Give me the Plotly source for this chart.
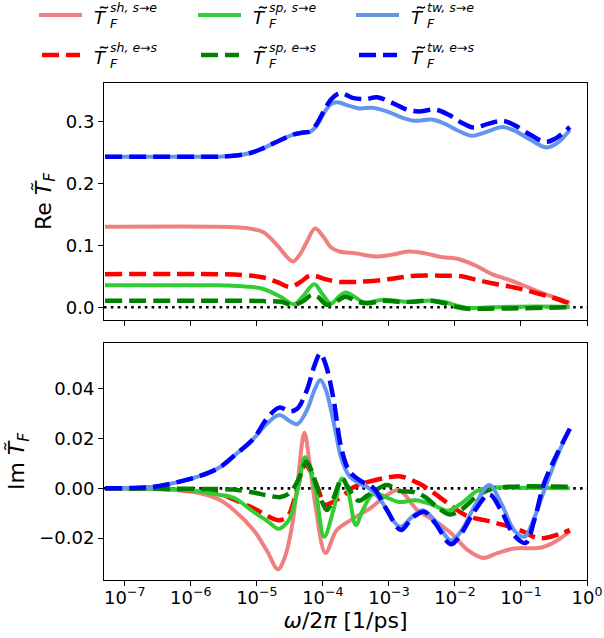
import numpy as np
import plotly.graph_objects as go

# ---------------- data (x given as log10 of omega/2pi in 1/ps) ----------------
# Real part
re_sh_se_lx = [-7.3, -5.6, -5.3, -5.1, -4.9, -4.7, -4.55, -4.45, -4.35, -4.25, -4.12, -4.0, -3.88, -3.75, -3.5, -3.2, -2.95, -2.7, -2.45, -2.2, -1.95, -1.7, -1.45, -1.2, -1.0, -0.7, -0.26]
re_sh_se = [0.130, 0.130, 0.129, 0.127, 0.121, 0.101, 0.082, 0.074, 0.085, 0.104, 0.127, 0.115, 0.097, 0.090, 0.087, 0.082, 0.085, 0.090, 0.087, 0.081, 0.078, 0.068, 0.054, 0.045, 0.037, 0.024, 0.007]

re_sh_es_lx = [-7.3, -5.6, -5.2, -4.9, -4.7, -4.5, -4.35, -4.2, -4.1, -3.95, -3.75, -3.5, -3.2, -2.9, -2.6, -2.2, -1.9, -1.7, -1.4, -1.1, -0.8, -0.5, -0.26]
re_sh_es = [0.0535, 0.0535, 0.052, 0.048, 0.041, 0.033, 0.040, 0.051, 0.050, 0.045, 0.041, 0.041, 0.043, 0.047, 0.051, 0.051, 0.050, 0.045, 0.038, 0.032, 0.024, 0.015, 0.006]

re_sp_se_lx = [-7.3, -5.6, -5.4, -5.1, -4.9, -4.64, -4.44, -4.3, -4.13, -4.0, -3.88, -3.76, -3.66, -3.52, -3.38, -3.08, -2.85, -2.67, -2.36, -2.16, -1.95, -1.81, -1.5, -1.1, -0.26]
re_sp_se = [0.0355, 0.0355, 0.035, 0.033, 0.0296, 0.017, 0.005, 0.018, 0.037, 0.020, 0.006, 0.017, 0.024, 0.017, 0.008, 0.012, 0.010, 0.0085, 0.011, 0.0085, 0.002, -0.001, 0.000, 0.001, 0.001]

re_sp_es_lx = [-7.3, -5.6, -5.2, -4.9, -4.64, -4.45, -4.3, -4.17, -4.08, -3.94, -3.84, -3.66, -3.5, -3.33, -3.07, -2.82, -2.6, -2.36, -2.16, -1.95, -1.81, -1.5, -1.0, -0.26]
re_sp_es = [0.0107, 0.0107, 0.0105, 0.010, 0.009, 0.0037, 0.010, 0.020, 0.017, 0.004, 0.006, 0.017, 0.010, 0.0065, 0.0107, 0.0086, 0.0095, 0.0107, 0.0065, 0.000, -0.0025, -0.0022, -0.0015, 0.000]

re_tw_se_lx = [-7.3, -6.0, -5.6, -5.4, -5.1, -4.9, -4.64, -4.44, -4.3, -4.2, -4.1, -3.98, -3.88, -3.78, -3.6, -3.45, -3.25, -3.0, -2.8, -2.62, -2.35, -2.15, -1.95, -1.75, -1.5, -1.28, -1.1, -0.85, -0.62, -0.45, -0.26]
re_tw_se = [0.243, 0.243, 0.243, 0.244, 0.249, 0.257, 0.270, 0.279, 0.282, 0.283, 0.292, 0.314, 0.328, 0.331, 0.325, 0.321, 0.322, 0.315, 0.306, 0.301, 0.303, 0.296, 0.285, 0.277, 0.284, 0.291, 0.285, 0.270, 0.258, 0.265, 0.286]

re_tw_es_lx = [-7.3, -6.0, -5.6, -5.4, -5.1, -4.9, -4.64, -4.44, -4.3, -4.2, -4.1, -3.98, -3.88, -3.78, -3.7, -3.55, -3.35, -3.18, -2.95, -2.75, -2.55, -2.3, -2.1, -1.9, -1.72, -1.5, -1.28, -1.1, -0.85, -0.64, -0.5, -0.26]
re_tw_es = [0.243, 0.243, 0.243, 0.244, 0.249, 0.257, 0.270, 0.279, 0.282, 0.284, 0.295, 0.318, 0.335, 0.344, 0.345, 0.338, 0.336, 0.339, 0.330, 0.320, 0.316, 0.319, 0.311, 0.298, 0.290, 0.296, 0.301, 0.294, 0.278, 0.267, 0.271, 0.291]

# Imaginary part
im_sh_se_lx = [-7.3, -6.5, -6.2, -5.86, -5.56, -5.35, -5.05, -4.85, -4.68, -4.58, -4.47, -4.38, -4.28, -4.2, -4.11, -3.96, -3.79, -3.53, -3.28, -3.03, -2.85, -2.57, -2.31, -2.06, -1.8, -1.57, -1.35, -1.1, -0.69, -0.45, -0.26]
im_sh_se = [0.0, -0.0003, -0.0008, -0.002, -0.0047, -0.0087, -0.0168, -0.025, -0.0326, -0.028, -0.0155, 0.003, 0.0224, 0.010, -0.0074, -0.026, -0.0168, -0.012, -0.008, -0.0027, -0.0007, -0.0087, -0.013, -0.018, -0.025, -0.028, -0.026, -0.0242, -0.0238, -0.021, -0.0172]

im_sh_es_lx = [-7.3, -6.5, -6.0, -5.56, -5.35, -5.05, -4.85, -4.68, -4.54, -4.42, -4.27, -4.17, -4.09, -3.96, -3.85, -3.7, -3.53, -3.3, -3.05, -2.82, -2.55, -2.31, -2.06, -1.81, -1.55, -1.3, -1.0, -0.75, -0.55, -0.26]
im_sh_es = [0.0, -0.0002, -0.0008, -0.0022, -0.0045, -0.008, -0.011, -0.0128, -0.0115, -0.0035, 0.0094, 0.006, 0.001, -0.0065, -0.0055, -0.003, 0.0005, 0.0027, 0.0042, 0.0048, 0.002, -0.002, -0.007, -0.0112, -0.0128, -0.0145, -0.017, -0.020, -0.0195, -0.0168]

im_sp_se_lx = [-7.3, -6.5, -6.0, -5.56, -5.35, -5.05, -4.85, -4.67, -4.55, -4.47, -4.37, -4.27, -4.19, -4.11, -3.98, -3.84, -3.71, -3.62, -3.5, -3.4, -3.23, -3.05, -2.85, -2.6, -2.35, -2.11, -1.9, -1.66, -1.45, -1.0, -0.26]
im_sp_se = [0.0, -0.0002, -0.0008, -0.0027, -0.0038, -0.0095, -0.013, -0.0163, -0.014, -0.010, 0.001, 0.0125, 0.007, -0.0007, -0.0195, -0.0087, 0.004, -0.001, -0.0148, -0.009, -0.002, -0.0035, -0.0055, -0.0048, -0.0065, -0.009, -0.006, -0.001, 0.0003, 0.0002, 0.0]

im_sp_es_lx = [-7.3, -6.0, -5.5, -5.35, -5.05, -4.85, -4.64, -4.51, -4.4, -4.32, -4.25, -4.17, -4.09, -3.94, -3.84, -3.71, -3.62, -3.46, -3.33, -3.23, -3.03, -2.85, -2.62, -2.46, -2.25, -2.08, -1.9, -1.66, -1.45, -1.2, -0.26]
im_sp_es = [0.0, -0.0002, -0.0003, -0.0005, -0.0017, -0.0028, -0.0035, -0.002, 0.002, 0.0067, 0.0107, 0.007, 0.0006, -0.0087, -0.004, 0.004, 0.0005, -0.005, -0.003, -0.0013, 0.0013, -0.001, -0.0015, -0.0034, -0.008, -0.0105, -0.0085, -0.003, -0.0003, 0.0006, 0.0006]

im_tw_se_lx = [-7.3, -6.8, -6.5, -6.2, -5.86, -5.56, -5.35, -5.05, -4.85, -4.66, -4.5, -4.39, -4.25, -4.12, -4.04, -3.96, -3.84, -3.72, -3.6, -3.45, -3.3, -3.12, -2.92, -2.82, -2.65, -2.49, -2.3, -2.06, -1.9, -1.7, -1.48, -1.3, -1.1, -0.95, -0.8, -0.65, -0.45, -0.26]
im_tw_se = [0.0, 0.0002, 0.0008, 0.0025, 0.005, 0.0085, 0.013, 0.020, 0.026, 0.0295, 0.027, 0.0258, 0.031, 0.040, 0.0436, 0.040, 0.027, 0.012, 0.005, 0.002, 0.0, -0.005, -0.0135, -0.0155, -0.0115, -0.0088, -0.013, -0.021, -0.017, -0.007, 0.0013, -0.006, -0.017, -0.0195, -0.012, -0.001, 0.013, 0.024]

im_tw_es_lx = [-7.3, -6.8, -6.5, -6.2, -5.86, -5.56, -5.35, -5.05, -4.85, -4.66, -4.5, -4.39, -4.25, -4.12, -4.04, -3.96, -3.84, -3.72, -3.6, -3.43, -3.23, -3.03, -2.82, -2.65, -2.47, -2.3, -2.06, -1.9, -1.7, -1.48, -1.3, -1.1, -0.93, -0.8, -0.65, -0.45, -0.26]
im_tw_es = [0.0, 0.0002, 0.0008, 0.0025, 0.005, 0.0085, 0.013, 0.020, 0.028, 0.0325, 0.031, 0.032, 0.039, 0.050, 0.0543, 0.050, 0.036, 0.016, 0.007, 0.003, 0.0, -0.0087, -0.0168, -0.012, -0.0094, -0.014, -0.0225, -0.018, -0.009, -0.0025, -0.009, -0.019, -0.022, -0.013, 0.002, 0.014, 0.024]

x_tick_exp = [-7, -6, -5, -4, -3, -2, -1, 0]
re_ticks = [0.0, 0.1, 0.2, 0.3]
im_ticks = [-0.02, 0.0, 0.02, 0.04]

series_labels = {
    "sh_se": "sh, s→e", "sh_es": "sh, e→s",
    "sp_se": "sp, s→e", "sp_es": "sp, e→s",
    "tw_se": "tw, s→e", "tw_es": "tw, e→s",
}

# ---------------- styling ----------------
FONT = "DejaVu Sans"
W, H = 604, 638
ML, MR, MT, MB = 104, 17, 83, 58
PW, PH = W - ML - MR, H - MT - MB

styles = {
    "sh_se": dict(color="#F08080", dash="solid", width=4),
    "sh_es": dict(color="#FF0000", dash="17px,7px", width=4.5),
    "sp_se": dict(color="#32CD32", dash="solid", width=4),
    "sp_es": dict(color="#008000", dash="17px,7px", width=4.5),
    "tw_se": dict(color="#6495ED", dash="solid", width=4),
    "tw_es": dict(color="#0000FF", dash="17px,7px", width=4.5),
}

re_data = {
    "sh_se": (re_sh_se_lx, re_sh_se), "sh_es": (re_sh_es_lx, re_sh_es),
    "sp_se": (re_sp_se_lx, re_sp_se), "sp_es": (re_sp_es_lx, re_sp_es),
    "tw_se": (re_tw_se_lx, re_tw_se), "tw_es": (re_tw_es_lx, re_tw_es),
}
im_data = {
    "sh_se": (im_sh_se_lx, im_sh_se), "sh_es": (im_sh_es_lx, im_sh_es),
    "sp_se": (im_sp_se_lx, im_sp_se), "sp_es": (im_sp_es_lx, im_sp_es),
    "tw_se": (im_tw_se_lx, im_tw_se), "tw_es": (im_tw_es_lx, im_tw_es),
}
order = ["sh_se", "sh_es", "sp_se", "sp_es", "tw_se", "tw_es"]

fig = go.Figure()
for key in order:
    lx, yv = re_data[key]
    fig.add_trace(go.Scatter(x=10.0 ** np.array(lx), y=yv, mode="lines",
                             line=dict(shape="spline", smoothing=1.0, **styles[key]),
                             xaxis="x", yaxis="y", showlegend=False, name=series_labels[key]))
for key in order:
    lx, yv = im_data[key]
    fig.add_trace(go.Scatter(x=10.0 ** np.array(lx), y=yv, mode="lines",
                             line=dict(shape="spline", smoothing=1.0, **styles[key]),
                             xaxis="x2", yaxis="y2", showlegend=False, name=series_labels[key]))

# zero lines (dotted)
for xr, yr in (("x domain", "y"), ("x2 domain", "y2")):
    fig.add_shape(type="line", xref=xr, yref=yr, x0=0, x1=1, y0=0, y1=0,
                  line=dict(color="black", width=2.6, dash="2.6px,4.2px"), layer="below")

gap = 23 / PH
top_dom = [0.5 + gap / 2, 1.0]
bot_dom = [0.0, 0.5 - gap / 2]

xrange = [np.log10(4.84e-8), 0.0]
tickvals = [10.0 ** e for e in x_tick_exp]
ticktext = ["10<sup>−%d</sup>" % (-e) if e < 0 else "10<sup>0</sup>" for e in x_tick_exp]

axis_common = dict(showline=True, mirror=True, linecolor="black", linewidth=1.1,
                   ticks="outside", ticklen=5, tickwidth=1.1, tickcolor="black",
                   showgrid=False, zeroline=False,
                   tickfont=dict(family=FONT, size=18, color="black"))

fig.update_layout(
    width=W, height=H, margin=dict(l=ML, r=MR, t=MT, b=MB, autoexpand=False),
    paper_bgcolor="white", plot_bgcolor="white",
    font=dict(family=FONT, color="black"),
    xaxis=dict(type="log", range=xrange, anchor="y", domain=[0, 1],
               tickvals=tickvals, ticktext=ticktext, showticklabels=False, **axis_common),
    xaxis2=dict(type="log", range=xrange, anchor="y2", domain=[0, 1],
                tickvals=tickvals, ticktext=ticktext, ticklabelstandoff=-4,
                title=dict(text="<i>ω</i>/2<i>π</i> [1/ps]", font=dict(family=FONT, size=22), standoff=0),
                **axis_common),
    yaxis=dict(domain=top_dom, anchor="x", range=[-0.0205, 0.362], tickvals=re_ticks,
               tickformat=".1f",
               title=dict(text="Re <i>T̃</i><sub><i>F</i></sub>", font=dict(family=FONT, size=22), standoff=8),
               **axis_common),
    yaxis2=dict(domain=bot_dom, anchor="x2", range=[-0.0369, 0.0585], tickvals=im_ticks,
                tickformat=".2f",
                title=dict(text="Im <i>T̃</i><sub><i>F</i></sub>", font=dict(family=FONT, size=22), standoff=8),
                **axis_common),
)

# ---------------- manual legend (3 columns x 2 rows) ----------------
def px2x(px):
    return (px - ML) / PW

def py2y(py):
    return (H - MB - py) / PH

def tilde_path(cx, cy):
    pts = [(cx - 4, cy + 0.9), (cx - 1.6, cy - 3.2), (cx + 1.6, cy + 3.2), (cx + 4, cy - 0.9)]
    p = [(px2x(a), py2y(b)) for a, b in pts]
    return "M %f,%f C %f,%f %f,%f %f,%f" % (p[0] + p[1] + p[2] + p[3])

col_x = [39, 198, 356]
rows = [("se", 15), ("es", 55)]
groups = ["sh", "sp", "tw"]
for ci, g in enumerate(groups):
    x0 = col_x[ci]
    for ri, (dirn, ly) in enumerate(rows):
        key = f"{g}_{dirn}"
        st = styles[key]
        if st["dash"] == "solid":
            xa, xb = x0, x0 + 43
        else:
            xa, xb = x0 + 3, x0 + 41
        fig.add_shape(type="line", xref="paper", yref="paper",
                      x0=px2x(xa), x1=px2x(xb), y0=py2y(ly), y1=py2y(ly),
                      line=dict(color=st["color"], width=st["width"], dash=st["dash"]))
        tx = x0 + 70
        fig.add_annotation(xref="paper", yref="paper", x=px2x(tx), y=py2y(ly + 2),
                           xanchor="right", yanchor="middle", showarrow=False,
                           text="<i>T</i>", font=dict(family=FONT, size=18, color="black"))
        fig.add_shape(type="path", xref="paper", yref="paper",
                      path=tilde_path(x0 + 65, ly - 7.5),
                      line=dict(color="black", width=1.4))
        fig.add_annotation(xref="paper", yref="paper", x=px2x(tx - 1), y=py2y(ly + 1),
                           xanchor="left", yanchor="middle", showarrow=False, align="left",
                           text="<i>" + series_labels[key] + "</i><br><i>F</i>",
                           font=dict(family=FONT, size=12.5, color="black"))

fig.write_html("out.html")
